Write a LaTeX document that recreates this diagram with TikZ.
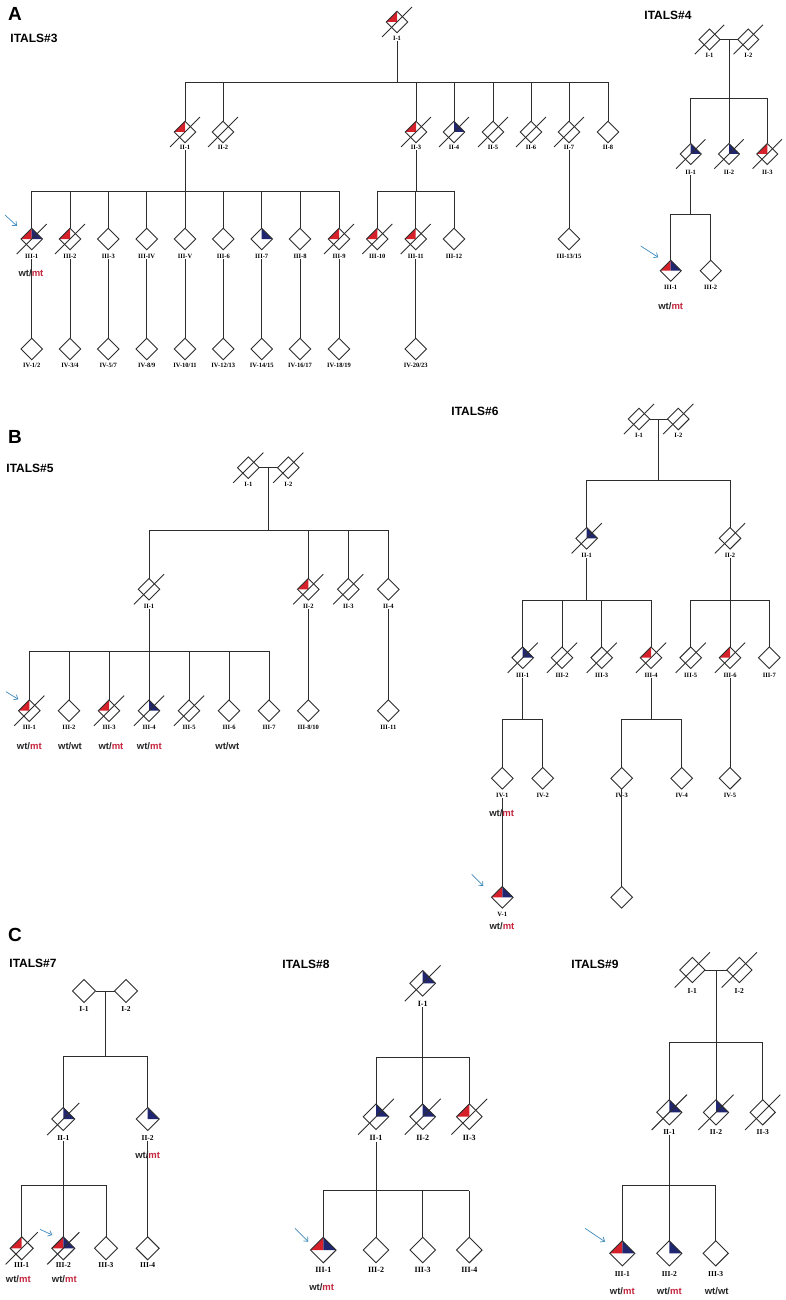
\documentclass[tikz,border=0pt]{standalone}
\usepackage{fontspec}
\setmainfont{Liberation Serif}
\newfontfamily\hv{Liberation Sans}
\usetikzlibrary{shapes.geometric,arrows.meta}
\definecolor{pedred}{RGB}{214,32,42}
\definecolor{pedblue}{RGB}{32,38,112}
\definecolor{mtred}{RGB}{196,38,62}
\definecolor{arrc}{RGB}{64,140,190}
\definecolor{ln}{RGB}{45,45,45}
\def\psz{10.7}
\def\lsz{7}
\tikzset{
 ped/.style={diamond, draw=ln, line width=0.9pt, inner sep=0pt, outer sep=0pt, minimum width=2*\psz, minimum height=2*\psz, aspect=1},
 redq/.style={path picture={\fill[pedred] (path picture bounding box.center) -- (path picture bounding box.west) -- (path picture bounding box.north) -- cycle;}},
 blueq/.style={path picture={\fill[pedblue] (path picture bounding box.center) -- (path picture bounding box.east) -- (path picture bounding box.north) -- cycle;}},
 rbq/.style={path picture={\fill[pedred] (path picture bounding box.center) -- (path picture bounding box.west) -- (path picture bounding box.north) -- cycle;
   \fill[pedblue] (path picture bounding box.center) -- (path picture bounding box.east) -- (path picture bounding box.north) -- cycle;}},
 lab/.style={font=\bfseries\fontsize{\lsz}{\lsz}\selectfont, inner sep=0.6pt},
 cn/.style={draw=ln, line width=0.9pt},
 dline/.style={draw=ln, line width=0.9pt},
 gt/.style={font=\hv\bfseries\fontsize{9.5}{10}\selectfont, inner sep=0pt, text=black!85},
 ttl/.style={font=\hv\bfseries\fontsize{12}{12}\selectfont, inner sep=0pt},
 pan/.style={font=\hv\bfseries\fontsize{19}{19}\selectfont, inner sep=0pt},
 parr/.style={draw=arrc, line width=0.7pt, -{Straight Barb[length=3.5pt,width=6pt]}},
}
% person: name, x, y, label y, label, style
\newcommand\pdP[6]{\node[ped,#6] (#1) at (#2,#3) {};\node[lab] (#1l) at (#2,#4) {#5};}
\newcommand\pdD[1]{\draw[dline] (#1.center) ++(-1.4*\psz,1.4*\psz) -- ++(2.8*\psz,-2.8*\psz);}
\newcommand\pdC[2]{\draw[cn] (#1.north) -- (#1.north |- #2);}
\newcommand\pdN[2]{\draw[cn] (#1l.south) -- (#1l.south |- #2);}
\newcommand\pdV[2]{\draw[cn] (#1l.south) -- (#2.north);}
\newcommand\pdGm[3]{\node[gt] (#1) at (#2,#3) {wt/\textcolor{mtred}{mt}};}
\newcommand\pdGw[3]{\node[gt] (#1) at (#2,#3) {wt/wt};}
\newcommand\pdB[3]{\coordinate (#1L) at (#2); \coordinate (#1R) at (#3); \draw[cn] (#1L) -- (#1R);}
\newcommand\pdA[3]{\coordinate (#1s) at (#2); \coordinate (#1e) at (#3); \draw[parr] (#1s) -- (#1e);}
\begin{document}
\begin{tikzpicture}[x=1pt,y=-1pt]
\fill[white] (0,0) rectangle (785,1300);
\useasboundingbox (0,0) rectangle (785,1300);
% ---------------- panel letters and titles
\node[pan] (pA) at (15,14) {A};
\node[pan] (pB) at (15,437) {B};
\node[pan] (pC) at (15,935) {C};
\node[ttl] (t3) at (34,38) {ITALS\#3};
\node[ttl] (t4) at (668,15) {ITALS\#4};
\node[ttl] (t5) at (30,468) {ITALS\#5};
\node[ttl] (t6) at (475,411) {ITALS\#6};
\node[ttl] (t7) at (33,963) {ITALS\#7};
\node[ttl] (t8) at (306,964) {ITALS\#8};
\node[ttl] (t9) at (595,964) {ITALS\#9};
% ================= ITALS#3
\def\psz{10.7}\def\lsz{6.5}
\pdP{c3i1}{397}{22}{38}{I-1}{redq}\pdD{c3i1}
\pdB{c3b1}{185,82}{608,82}
\pdN{c3i1}{c3b1L}
\pdP{c3ii1}{185}{132}{147}{II-1}{redq}\pdD{c3ii1}
\pdP{c3ii2}{223}{132}{147}{II-2}{}\pdD{c3ii2}
\pdP{c3ii3}{416}{132}{147}{II-3}{redq}\pdD{c3ii3}
\pdP{c3ii4}{454}{132}{147}{II-4}{blueq}\pdD{c3ii4}
\pdP{c3ii5}{493}{132}{147}{II-5}{}\pdD{c3ii5}
\pdP{c3ii6}{531}{132}{147}{II-6}{}\pdD{c3ii6}
\pdP{c3ii7}{569}{132}{147}{II-7}{}\pdD{c3ii7}
\pdP{c3ii8}{608}{132}{147}{II-8}{}
\pdC{c3ii1}{c3b1L}\pdC{c3ii2}{c3b1L}\pdC{c3ii3}{c3b1L}\pdC{c3ii4}{c3b1L}
\pdC{c3ii5}{c3b1L}\pdC{c3ii6}{c3b1L}\pdC{c3ii7}{c3b1L}\pdC{c3ii8}{c3b1L}
\pdB{c3b2}{31.7,191}{339,191}
\pdN{c3ii1}{c3b2L}
\pdP{c3iii1}{31.7}{239}{256}{III-1}{rbq}\pdD{c3iii1}
\pdP{c3iii2}{70}{239}{256}{III-2}{redq}\pdD{c3iii2}
\pdP{c3iii3}{108.3}{239}{256}{III-3}{}
\pdP{c3iii4}{146.7}{239}{256}{III-IV}{}
\pdP{c3iii5}{185}{239}{256}{III-V}{}
\pdP{c3iii6}{223.3}{239}{256}{III-6}{}
\pdP{c3iii7}{261.7}{239}{256}{III-7}{blueq}
\pdP{c3iii8}{300}{239}{256}{III-8}{}
\pdP{c3iii9}{339}{239}{256}{III-9}{redq}\pdD{c3iii9}
\pdC{c3iii1}{c3b2L}\pdC{c3iii2}{c3b2L}\pdC{c3iii3}{c3b2L}\pdC{c3iii4}{c3b2L}\pdC{c3iii5}{c3b2L}
\pdC{c3iii6}{c3b2L}\pdC{c3iii7}{c3b2L}\pdC{c3iii8}{c3b2L}\pdC{c3iii9}{c3b2L}
\pdB{c3b3}{377.3,191}{454,191}
\pdN{c3ii3}{c3b3L}
\pdP{c3iii10}{377.3}{239}{256}{III-10}{redq}\pdD{c3iii10}
\pdP{c3iii11}{415.7}{239}{256}{III-11}{redq}\pdD{c3iii11}
\pdP{c3iii12}{454}{239}{256}{III-12}{}
\pdC{c3iii10}{c3b3L}\pdC{c3iii11}{c3b3L}\pdC{c3iii12}{c3b3L}
\pdP{c3iii13}{569}{239}{256}{III-13/15}{}
\pdV{c3ii7}{c3iii13}
\pdGm{c3g1}{31}{273}
\pdP{c3iv1}{31.7}{349}{365}{IV-1/2}{}\pdV{c3iii1}{c3iv1}
\pdP{c3iv2}{70}{349}{365}{IV-3/4}{}\pdV{c3iii2}{c3iv2}
\pdP{c3iv3}{108.3}{349}{365}{IV-5/7}{}\pdV{c3iii3}{c3iv3}
\pdP{c3iv4}{146.7}{349}{365}{IV-8/9}{}\pdV{c3iii4}{c3iv4}
\pdP{c3iv5}{185}{349}{365}{IV-10/11}{}\pdV{c3iii5}{c3iv5}
\pdP{c3iv6}{223.3}{349}{365}{IV-12/13}{}\pdV{c3iii6}{c3iv6}
\pdP{c3iv7}{261.7}{349}{365}{IV-14/15}{}\pdV{c3iii7}{c3iv7}
\pdP{c3iv8}{300}{349}{365}{IV-16/17}{}\pdV{c3iii8}{c3iv8}
\pdP{c3iv9}{339}{349}{365}{IV-18/19}{}\pdV{c3iii9}{c3iv9}
\pdP{c3iv10}{415.7}{349}{365}{IV-20/23}{}\pdV{c3iii11}{c3iv10}
\pdA{c3a}{5,215}{17,226}
% ================= ITALS#4
\def\psz{10.5}\def\lsz{6.5}
\pdP{c4i1}{709.5}{39.5}{55}{I-1}{}\pdD{c4i1}
\pdP{c4i2}{748.3}{39.5}{55}{I-2}{}\pdD{c4i2}
\draw[cn] (c4i1.east) -- (c4i2.west);
\coordinate (c4m) at (729,39.5);
\pdB{c4b1}{690.7,98.3}{767.3,98.3}
\draw[cn] (c4m) -- (c4m |- c4b1L);
\pdP{c4ii1}{690.7}{154}{172}{II-1}{blueq}\pdD{c4ii1}
\pdP{c4ii2}{729}{154}{172}{II-2}{blueq}\pdD{c4ii2}
\pdP{c4ii3}{767.3}{154}{172}{II-3}{redq}\pdD{c4ii3}
\pdC{c4ii1}{c4b1L}\pdC{c4ii2}{c4b1L}\pdC{c4ii3}{c4b1L}
\pdB{c4b2}{670.7,214.3}{710.7,214.3}
\pdN{c4ii1}{c4b2L}
\pdP{c4iii1}{670.7}{270.7}{287.3}{III-1}{rbq}
\pdP{c4iii2}{710.7}{270.7}{287.3}{III-2}{}
\pdC{c4iii1}{c4b2L}\pdC{c4iii2}{c4b2L}
\pdGm{c4g1}{670.7}{305.7}
\pdA{c4a}{640.7,246}{658.3,257.3}
% ================= ITALS#5
\def\psz{10.8}\def\lsz{6.5}
\pdP{c5i1}{248.3}{467.7}{484.3}{I-1}{}\pdD{c5i1}
\pdP{c5i2}{288.3}{467.7}{484.3}{I-2}{}\pdD{c5i2}
\draw[cn] (c5i1.east) -- (c5i2.west);
\coordinate (c5m) at (268.3,467.7);
\pdB{c5b1}{149,530}{388.3,530}
\draw[cn] (c5m) -- (c5m |- c5b1L);
\pdP{c5ii1}{149}{589.3}{606}{II-1}{}\pdD{c5ii1}
\pdP{c5ii2}{308.3}{589.3}{606}{II-2}{redq}\pdD{c5ii2}
\pdP{c5ii3}{348.3}{589.3}{606}{II-3}{}\pdD{c5ii3}
\pdP{c5ii4}{388.3}{589.3}{606}{II-4}{}
\pdC{c5ii1}{c5b1L}\pdC{c5ii2}{c5b1L}\pdC{c5ii3}{c5b1L}\pdC{c5ii4}{c5b1L}
\pdB{c5b2}{29.3,651.3}{269,651.3}
\pdN{c5ii1}{c5b2L}
\pdP{c5iii1}{29.3}{710.7}{727.3}{III-1}{redq}\pdD{c5iii1}
\pdP{c5iii2}{69}{710.7}{727.3}{III-2}{}
\pdP{c5iii3}{109}{710.7}{727.3}{III-3}{redq}\pdD{c5iii3}
\pdP{c5iii4}{149}{710.7}{727.3}{III-4}{blueq}\pdD{c5iii4}
\pdP{c5iii5}{189}{710.7}{727.3}{III-5}{}\pdD{c5iii5}
\pdP{c5iii6}{229}{710.7}{727.3}{III-6}{}
\pdP{c5iii7}{269}{710.7}{727.3}{III-7}{}
\pdC{c5iii1}{c5b2L}\pdC{c5iii2}{c5b2L}\pdC{c5iii3}{c5b2L}\pdC{c5iii4}{c5b2L}
\pdC{c5iii5}{c5b2L}\pdC{c5iii6}{c5b2L}\pdC{c5iii7}{c5b2L}
\pdP{c5iii8}{308.3}{710.7}{727.3}{III-8/10}{}\pdV{c5ii2}{c5iii8}
\pdP{c5iii11}{388.3}{710.7}{727.3}{III-11}{}\pdV{c5ii4}{c5iii11}
\pdGm{c5g1}{29.3}{746}
\pdGw{c5g2}{70}{746}
\pdGm{c5g3}{111}{746}
\pdGm{c5g4}{149.3}{746}
\pdGw{c5g6}{227.3}{746}
\pdA{c5a}{6,691.7}{18.3,699.3}
% ================= ITALS#6
\def\psz{10.8}\def\lsz{6.5}
\pdP{c6i1}{639}{419}{435.7}{I-1}{}\pdD{c6i1}
\pdP{c6i2}{678.3}{419}{435.7}{I-2}{}\pdD{c6i2}
\draw[cn] (c6i1.east) -- (c6i2.west);
\coordinate (c6m) at (658.3,419);
\pdB{c6b1}{586.7,480}{730,480}
\draw[cn] (c6m) -- (c6m |- c6b1L);
\pdP{c6ii1}{586.7}{538.3}{555}{II-1}{blueq}\pdD{c6ii1}
\pdP{c6ii2}{730}{538.3}{555}{II-2}{}\pdD{c6ii2}
\pdC{c6ii1}{c6b1L}\pdC{c6ii2}{c6b1L}
\pdB{c6b2}{522.7,600}{651,600}
\pdB{c6b3}{690.7,600}{769.3,600}
\pdN{c6ii1}{c6b2L}\pdN{c6ii2}{c6b3L}
\pdP{c6iii1}{522.7}{657.7}{675}{III-1}{blueq}\pdD{c6iii1}
\pdP{c6iii2}{562}{657.7}{675}{III-2}{}\pdD{c6iii2}
\pdP{c6iii3}{601.7}{657.7}{675}{III-3}{}\pdD{c6iii3}
\pdP{c6iii4}{651}{657.7}{675}{III-4}{redq}\pdD{c6iii4}
\pdP{c6iii5}{690.7}{657.7}{675}{III-5}{}\pdD{c6iii5}
\pdP{c6iii6}{730}{657.7}{675}{III-6}{redq}\pdD{c6iii6}
\pdP{c6iii7}{769.3}{657.7}{675}{III-7}{}
\pdC{c6iii1}{c6b2L}\pdC{c6iii2}{c6b2L}\pdC{c6iii3}{c6b2L}\pdC{c6iii4}{c6b2L}
\pdC{c6iii5}{c6b3L}\pdC{c6iii6}{c6b3L}\pdC{c6iii7}{c6b3L}
\pdB{c6b4}{502.3,719.3}{542.7,719.3}
\pdB{c6b5}{621.7,719.3}{681.7,719.3}
\pdN{c6iii1}{c6b4L}\pdN{c6iii4}{c6b5L}
\pdP{c6iv1}{502.3}{778.3}{795}{IV-1}{}
\pdP{c6iv2}{542.7}{778.3}{795}{IV-2}{}
\pdP{c6iv3}{621.7}{778.3}{795}{IV-3}{}
\pdP{c6iv4}{681.7}{778.3}{795}{IV-4}{}
\pdP{c6iv5}{730}{778.3}{795}{IV-5}{}
\pdC{c6iv1}{c6b4L}\pdC{c6iv2}{c6b4L}\pdC{c6iv3}{c6b5L}\pdC{c6iv4}{c6b5L}
\pdV{c6iii6}{c6iv5}
\pdGm{c6g1}{501.7}{813.3}
\pdP{c6v1}{502.3}{897.3}{914}{V-1}{rbq}
\pdV{c6iv1}{c6v1}
\node[ped] (c6u) at (621.7,897.3) {};
\draw[cn] (c6iv3.south) -- (c6u.north);
\pdGm{c6g2}{502}{926}
\pdA{c6a}{471.7,874.3}{483.3,886}
% ================= ITALS#7
\def\psz{11.5}\def\lsz{7.5}
\pdP{c7i1}{84}{991}{1009.3}{I-1}{}
\pdP{c7i2}{126}{991}{1009.3}{I-2}{}
\draw[cn] (c7i1.east) -- (c7i2.west);
\coordinate (c7m) at (105.5,991);
\pdB{c7b1}{63.3,1056.7}{147.7,1056.7}
\draw[cn] (c7m) -- (c7m |- c7b1L);
\pdP{c7ii1}{63.3}{1119}{1137.7}{II-1}{blueq}\pdD{c7ii1}
\pdP{c7ii2}{147.7}{1119}{1137.7}{II-2}{blueq}
\pdC{c7ii1}{c7b1L}\pdC{c7ii2}{c7b1L}
\pdGm{c7g0}{147.7}{1155}
\pdB{c7b2}{21.7,1185}{106,1185}
\pdN{c7ii1}{c7b2L}
\pdP{c7iii1}{21.7}{1248.3}{1265}{III-1}{redq}\pdD{c7iii1}
\pdP{c7iii2}{63.3}{1248.3}{1265}{III-2}{rbq}\pdD{c7iii2}
\pdP{c7iii3}{106}{1248.3}{1265}{III-3}{}
\pdC{c7iii1}{c7b2L}\pdC{c7iii2}{c7b2L}\pdC{c7iii3}{c7b2L}
\pdP{c7iii4}{147.7}{1248.3}{1265}{III-4}{}
\pdV{c7ii2}{c7iii4}
\pdGm{c7g1}{18.3}{1279}
\pdGm{c7g2}{64.3}{1279}
\pdA{c7a}{40,1229.3}{52.3,1235}
% ================= ITALS#8
\def\psz{12.8}\def\lsz{8}
\pdP{c8i1}{422.7}{983.3}{1004}{I-1}{blueq}\pdD{c8i1}
\pdB{c8b1}{376,1057.3}{469.3,1057.3}
\pdN{c8i1}{c8b1L}
\pdP{c8ii1}{376}{1116.7}{1138.3}{II-1}{blueq}\pdD{c8ii1}
\pdP{c8ii2}{422.7}{1116.7}{1138.3}{II-2}{blueq}\pdD{c8ii2}
\pdP{c8ii3}{469.3}{1116.7}{1138.3}{II-3}{redq}\pdD{c8ii3}
\pdC{c8ii1}{c8b1L}\pdC{c8ii2}{c8b1L}\pdC{c8ii3}{c8b1L}
\pdB{c8b2}{323.3,1190.7}{469.3,1190.7}
\pdN{c8ii1}{c8b2L}
\pdP{c8iii1}{323.3}{1250}{1270}{III-1}{rbq}
\pdP{c8iii2}{376}{1250}{1270}{III-2}{}
\pdP{c8iii3}{422.7}{1250}{1270}{III-3}{}
\pdP{c8iii4}{469.3}{1250}{1270}{III-4}{}
\pdC{c8iii1}{c8b2L}\pdC{c8iii2}{c8b2L}\pdC{c8iii3}{c8b2L}\pdC{c8iii4}{c8b2L}
\pdGm{c8g1}{321.7}{1286.7}
\pdA{c8a}{295,1228.3}{308.3,1241.7}
% ================= ITALS#9
\def\psz{12.6}\def\lsz{7.5}
\pdP{c9i1}{692.3}{970}{990.7}{I-1}{}\pdD{c9i1}
\pdP{c9i2}{739.3}{970}{990.7}{I-2}{}\pdD{c9i2}
\draw[cn] (c9i1.east) -- (c9i2.west);
\coordinate (c9m) at (716,970);
\pdB{c9b1}{669.3,1042.7}{762.7,1042.7}
\draw[cn] (c9m) -- (c9m |- c9b1L);
\pdP{c9ii1}{669.3}{1112.3}{1131.7}{II-1}{blueq}\pdD{c9ii1}
\pdP{c9ii2}{716}{1112.3}{1131.7}{II-2}{blueq}\pdD{c9ii2}
\pdP{c9ii3}{762.7}{1112.3}{1131.7}{II-3}{}\pdD{c9ii3}
\pdC{c9ii1}{c9b1L}\pdC{c9ii2}{c9b1L}\pdC{c9ii3}{c9b1L}
\pdB{c9b2}{622.3,1185}{715.7,1185}
\pdN{c9ii1}{c9b2L}
\pdP{c9iii1}{622.3}{1253.3}{1274.3}{III-1}{rbq}
\pdP{c9iii2}{669.3}{1253.3}{1274.3}{III-2}{blueq}
\pdP{c9iii3}{715.7}{1253.3}{1274.3}{III-3}{}
\pdC{c9iii1}{c9b2L}\pdC{c9iii2}{c9b2L}\pdC{c9iii3}{c9b2L}
\pdGm{c9g1}{622.3}{1290.7}
\pdGm{c9g2}{669.3}{1290.7}
\pdGw{c9g3}{716.7}{1290.7}
\pdA{c9a}{585,1228.3}{605,1241.7}
\end{tikzpicture}
\end{document}
